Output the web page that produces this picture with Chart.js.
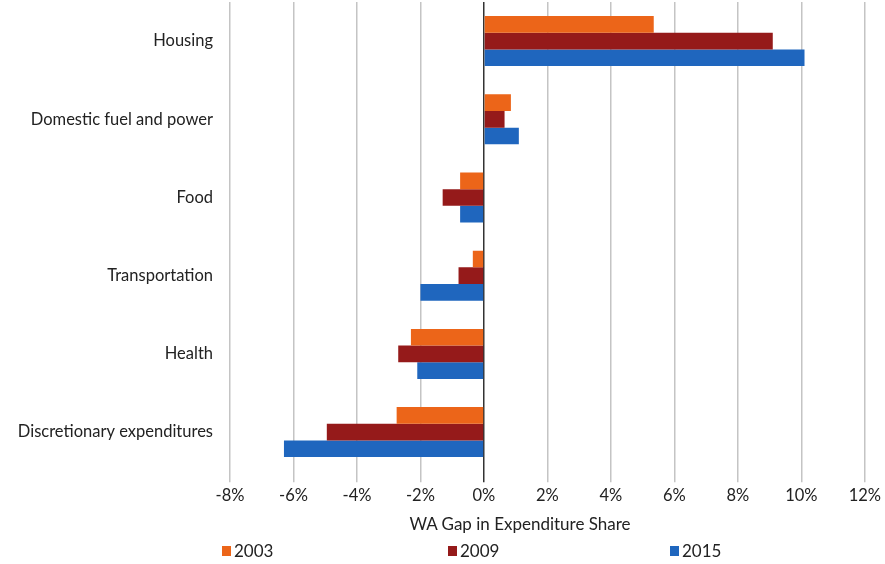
<!DOCTYPE html>
<html>
<head>
<meta charset="utf-8">
<script src="https://cdn.jsdelivr.net/npm/chart.js@4/dist/chart.umd.min.js"></script>
<style>
  body { margin: 0; background: #fff; font-family: Lato, sans-serif; }
  #wrap { position: relative; width: 885px; height: 536px; }
  #xtitle { position: absolute; top: 513px; left: 320px; width: 400px; text-align: center; font-size: 17px; color: #222; }
  #legend { position: absolute; top: 540px; left: 0; width: 885px; height: 24px; font-size: 17px; color: #222; }
  .item { position: absolute; top: 0; display: flex; align-items: center; }
  .sw { width: 9px; height: 10px; margin-right: 3px; }
</style>
</head>
<body>
<div id="wrap"><canvas id="chart"></canvas></div>
<div id="xtitle">WA Gap in Expenditure Share</div>
<div id="legend"></div>
<script>
// categories and values (percentage points)
const categories = ['Housing', 'Domestic fuel and power', 'Food', 'Transportation', 'Health', 'Discretionary expenditures'];
const gap2003 = [5.35, 0.85, -0.75, -0.35, -2.3, -2.75];
const gap2009 = [9.1, 0.65, -1.3, -0.8, -2.7, -4.95];
const gap2015 = [10.1, 1.1, -0.75, -2.0, -2.1, -6.3];
const seriesNames = ['2003', '2009', '2015'];
const seriesColors = ['#EC6519', '#951A1A', '#1F66BE'];

const ctx = document.getElementById('chart').getContext('2d');
new Chart(ctx, {
  type: 'bar',
  data: {
    labels: categories,
    datasets: [gap2003, gap2009, gap2015].map((d, i) => ({
      label: seriesNames[i],
      data: d,
      backgroundColor: seriesColors[i],
      barPercentage: 1,
      categoryPercentage: 0.64
    }))
  },
  options: {
    indexAxis: 'y',
    responsive: true,
    maintainAspectRatio: false,
    animation: false,
    layout: { padding: { top: 2, right: 4, bottom: 26, left: 0 } },
    plugins: { legend: { display: false }, tooltip: { enabled: false } },
    scales: {
      x: {
        min: -8, max: 12,
        ticks: {
          stepSize: 2,
          callback: v => v + '%',
          color: '#222',
          font: { family: 'Lato', size: 16.5 },
          padding: 4
        },
        grid: {
          color: ctx => ctx.tick && ctx.tick.value === 0 ? '#333' : '#c4c4c4',
          lineWidth: 1.5,
          tickLength: 11
        },
        border: { display: false }
      },
      y: {
        grid: { display: false, drawTicks: false },
        border: { display: false },
        ticks: {
          color: '#222',
          font: { family: 'Lato', size: 16.5 },
          padding: 17
        },
        afterFit: s => { s.width = 230; s.paddingTop = 0; s.paddingBottom = 0; }
      }
    }
  }
});

// legend below the chart
const legend = document.getElementById('legend');
const legendX = [222, 448, 670];
seriesNames.forEach((n, i) => {
  const el = document.createElement('div');
  el.className = 'item';
  el.style.left = legendX[i] + 'px';
  el.innerHTML = '<div class="sw" style="background:' + seriesColors[i] + '"></div>' + n;
  legend.appendChild(el);
});
</script>
</body>
</html>
